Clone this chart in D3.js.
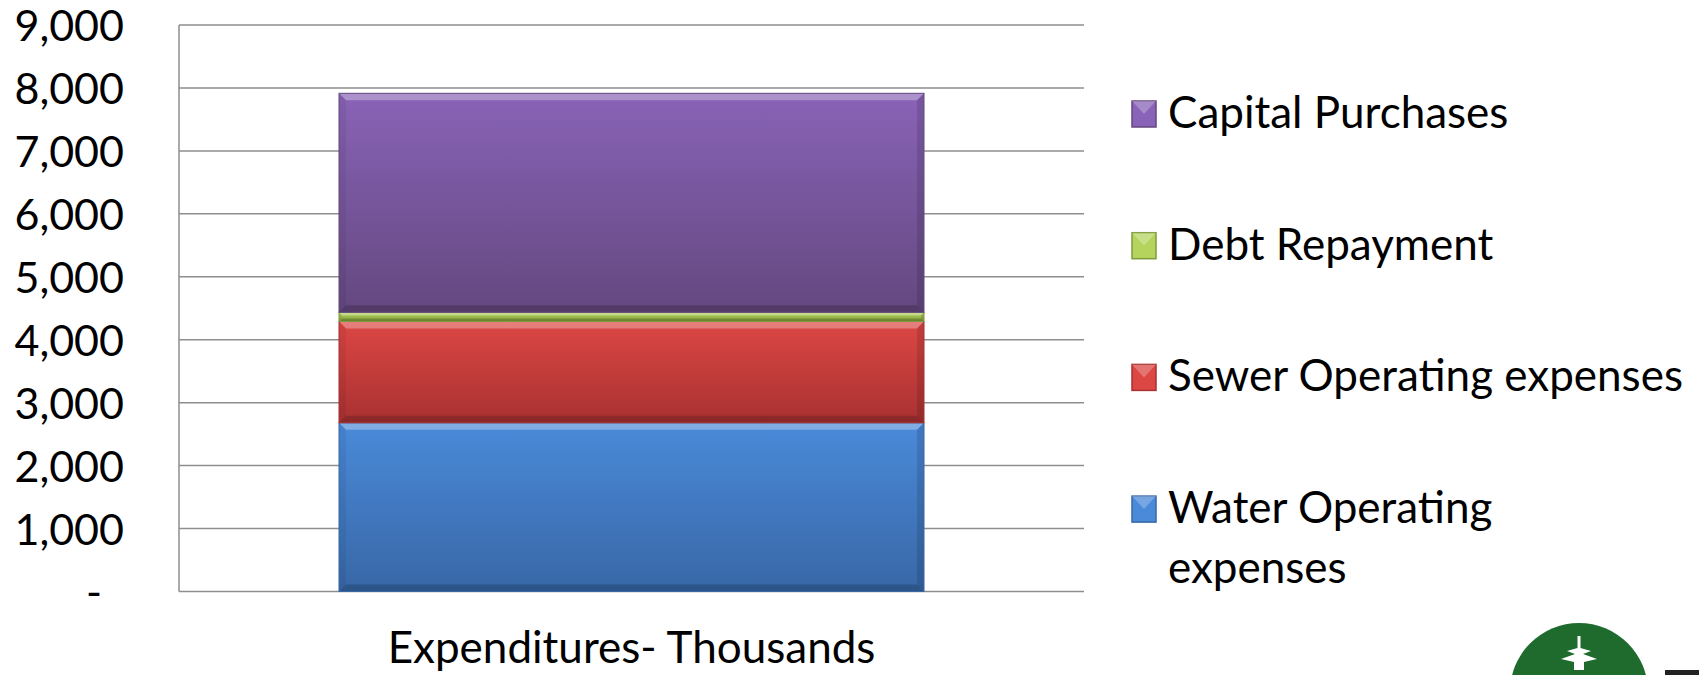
<!DOCTYPE html>
<html>
<head>
<meta charset="utf-8">
<script src="https://cdn.jsdelivr.net/npm/d3@7"></script>
<style>
  body { margin: 0; background: #fff; }
  svg { display: block; }
  text { font-family: Lato, "Open Sans", sans-serif; fill: #000; }
</style>
</head>
<body>
<svg id="chart" width="1699" height="675"></svg>
<script>
"use strict";

// data (thousands)
const categories = ["Expenditures- Thousands"];
const seriesNames = ["Water Operating expenses", "Sewer Operating expenses", "Debt Repayment", "Capital Purchases"];
const waterOperating = [2680];
const sewerOperating = [1610];
const debtRepayment = [145];
const capitalPurchases = [3480];
const yTicks = [0, 1000, 2000, 3000, 4000, 5000, 6000, 7000, 8000, 9000];

const seriesColors = {
    "Water Operating expenses": ["#4a8ad9", "#3867a6"],
    "Sewer Operating expenses": ["#dc4744", "#a83131"],
    "Debt Repayment": ["#b5d45e", "#7f9c3a"],
    "Capital Purchases": ["#8963b7", "#64487f"]
};

const svg = d3.select("#chart");
const margin = {left: 179, right: 615, top: 25, bottom: 83.5};
const width = 1699, height = 675;

const x = d3.scaleBand()
    .domain(categories)
    .range([margin.left, width - margin.right])
    .paddingInner(0)
    .paddingOuter(0.2735);

const y = d3.scaleLinear()
    .domain([0, 9000])
    .range([height - margin.bottom, margin.top]);

// gradients
const defs = svg.append("defs");
seriesNames.forEach((s, i) => {
    const g = defs.append("linearGradient")
        .attr("id", "grad" + i)
        .attr("x1", 0).attr("y1", 0).attr("x2", 0).attr("y2", 1);
    g.append("stop").attr("offset", "0%").attr("stop-color", seriesColors[s][0]);
    g.append("stop").attr("offset", "100%").attr("stop-color", seriesColors[s][1]);
});

// gridlines
svg.append("g")
    .selectAll("line")
    .data(yTicks)
    .join("line")
    .attr("x1", margin.left)
    .attr("x2", width - margin.right)
    .attr("y1", d => y(d))
    .attr("y2", d => y(d))
    .attr("stroke", "#8e8e8e")
    .attr("stroke-width", 1.5);

svg.append("line")
    .attr("x1", margin.left).attr("x2", margin.left)
    .attr("y1", y(9000)).attr("y2", y(0))
    .attr("stroke", "#8e8e8e")
    .attr("stroke-width", 1.5);

// y axis labels
const yAxis = d3.axisLeft(y)
    .tickValues(yTicks)
    .tickSize(0)
    .tickPadding(55)
    .tickFormat(d => d === 0 ? "-" : d3.format(",")(d));

svg.append("g")
    .attr("transform", `translate(${margin.left},0)`)
    .call(yAxis)
    .call(g => g.select(".domain").remove())
    .call(g => g.selectAll("text")
        .style("font-family", "Lato, 'Open Sans', sans-serif")
        .style("font-size", "43px")
        .attr("fill", "#000")
        .attr("dy", "0.36em")
        .attr("dx", d => d === 0 ? -22 : 0));

// x axis label
const xAxis = d3.axisBottom(x).tickSize(0).tickPadding(40);
svg.append("g")
    .attr("transform", `translate(0,${y(0)})`)
    .call(xAxis)
    .call(g => g.select(".domain").remove())
    .call(g => g.selectAll("text")
        .style("font-family", "Lato, 'Open Sans', sans-serif")
        .style("font-size", "44px")
        .attr("fill", "#000"));

// stacked bar
const rows = categories.map((c, i) => ({
    category: c,
    "Water Operating expenses": waterOperating[i],
    "Sewer Operating expenses": sewerOperating[i],
    "Debt Repayment": debtRepayment[i],
    "Capital Purchases": capitalPurchases[i]
}));
const stacked = d3.stack().keys(seriesNames)(rows);

const bev = 7;
stacked.forEach((layer, si) => {
    layer.forEach(d => {
        const x0 = x(d.data.category), x1 = x0 + x.bandwidth();
        const y0 = y(d[0]), y1 = y(d[1]);
        const b = Math.min(bev, (y0 - y1) / 3);
        const g = svg.append("g").attr("class", "segment");
        g.append("rect")
            .attr("x", x0).attr("y", y1)
            .attr("width", x1 - x0).attr("height", y0 - y1)
            .attr("fill", `url(#grad${si})`);
        // bevel: top light, bottom dark, sides slight
        g.append("polygon")
            .attr("points", [[x0, y1], [x1, y1], [x1 - b, y1 + b], [x0 + b, y1 + b]].join(" "))
            .attr("fill", "#fff").attr("opacity", 0.3);
        g.append("polygon")
            .attr("points", [[x0, y0], [x1, y0], [x1 - b, y0 - b], [x0 + b, y0 - b]].join(" "))
            .attr("fill", "#000").attr("opacity", 0.18);
        g.append("polygon")
            .attr("points", [[x0, y1], [x0 + b, y1 + b], [x0 + b, y0 - b], [x0, y0]].join(" "))
            .attr("fill", "#000").attr("opacity", 0.06);
        g.append("polygon")
            .attr("points", [[x1, y1], [x1 - b, y1 + b], [x1 - b, y0 - b], [x1, y0]].join(" "))
            .attr("fill", "#000").attr("opacity", 0.12);
        g.append("rect")
            .attr("x", x0).attr("y", y1)
            .attr("width", x1 - x0).attr("height", y0 - y1)
            .attr("fill", "none")
            .attr("stroke", seriesColors[seriesNames[si]][1])
            .attr("stroke-width", 1);
    });
});

// legend
const legendItems = seriesNames.slice().reverse();
const legendLines = {
    "Capital Purchases": ["Capital Purchases"],
    "Debt Repayment": ["Debt Repayment"],
    "Sewer Operating expenses": ["Sewer Operating expenses"],
    "Water Operating expenses": ["Water Operating", "expenses"]
};
const legend = svg.append("g").attr("transform", "translate(1132,0)");
const li = legend.selectAll("g")
    .data(legendItems)
    .join("g")
    .attr("transform", (d, i) => `translate(0,${128 + i * 131.7})`);

li.append("rect")
    .attr("x", 0).attr("y", -27)
    .attr("width", 24).attr("height", 26)
    .attr("fill", d => seriesColors[d][0])
    .attr("stroke", d => seriesColors[d][1])
    .attr("stroke-width", 1.5);
li.append("polygon")
    .attr("points", "0,-27 24,-27 12,-14")
    .attr("fill", "#fff").attr("opacity", 0.25);

li.append("text")
    .attr("x", 36)
    .style("font-size", "44px")
    .selectAll("tspan")
    .data(d => legendLines[d])
    .join("tspan")
    .attr("x", 36)
    .attr("dy", (d, i) => i === 0 ? 0 : 60)
    .text(d => d);

// logo at the bottom right, cut by the frame
const logo = svg.append("g").attr("transform", "translate(1579,692)");
logo.append("circle").attr("r", 69).attr("fill", "#1e6b2d");
logo.append("path")
    .attr("d", "M-1.5,-56 L1.5,-56 L1.5,-44 L12,-41 L4,-38 L18,-33 L5,-30 L5,-22 L-5,-22 L-5,-30 L-18,-33 L-4,-38 L-12,-41 L-1.5,-44 Z")
    .attr("fill", "#fff");
svg.append("rect").attr("x", 1665).attr("y", 670).attr("width", 34).attr("height", 5).attr("fill", "#222");
</script>
</body>
</html>
